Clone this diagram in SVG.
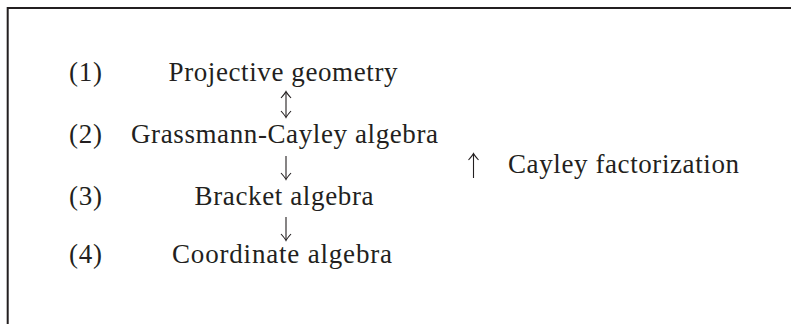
<svg xmlns="http://www.w3.org/2000/svg" width="791" height="324" viewBox="0 0 791 324">
<style>
text{font-family:"Liberation Serif","Times New Roman",serif;font-size:27px;fill:#231f20}
.c{text-anchor:middle}
.ar{stroke:#231f20;stroke-width:1.1;fill:none}
.fr{stroke:#231f20;stroke-width:2;fill:none}
</style>
<defs>
<marker id="h" markerUnits="userSpaceOnUse" markerWidth="14" markerHeight="14" refX="0" refY="0" viewBox="-8 -7 10 14" orient="auto-start-reverse">
<path d="M-6,-5 Q-1.5,-1 0.5,0 Q-1.5,1 -6,5" stroke="#231f20" stroke-width="1.1" fill="none"/>
</marker>
</defs>
<path class="fr" d="M7.7,324 V8 H791"/>
<g id="row1">
<text x="69" y="81" textLength="33">(1)</text>
<text class="c" x="283" y="81" textLength="229">Projective geometry</text>
</g>
<g id="row2">
<text x="69" y="143" textLength="33">(2)</text>
<text class="c" x="284.5" y="143" textLength="307">Grassmann-Cayley algebra</text>
</g>
<g id="row3">
<text x="69" y="205" textLength="33">(3)</text>
<text class="c" x="284" y="205" textLength="179">Bracket algebra</text>
</g>
<g id="row4">
<text x="69" y="263" textLength="33">(4)</text>
<text class="c" x="282" y="263" textLength="220">Coordinate algebra</text>
</g>
<g id="note">
<text x="508" y="173" textLength="231">Cayley factorization</text>
</g>
<g id="connectors">
<path class="ar" d="M286,92 V117" marker-start="url(#h)" marker-end="url(#h)"/>
<path class="ar" d="M286,156 V179" marker-end="url(#h)"/>
<path class="ar" d="M473.5,178 V154" marker-end="url(#h)"/>
<path class="ar" d="M286,217 V240" marker-end="url(#h)"/>
</g>
</svg>
